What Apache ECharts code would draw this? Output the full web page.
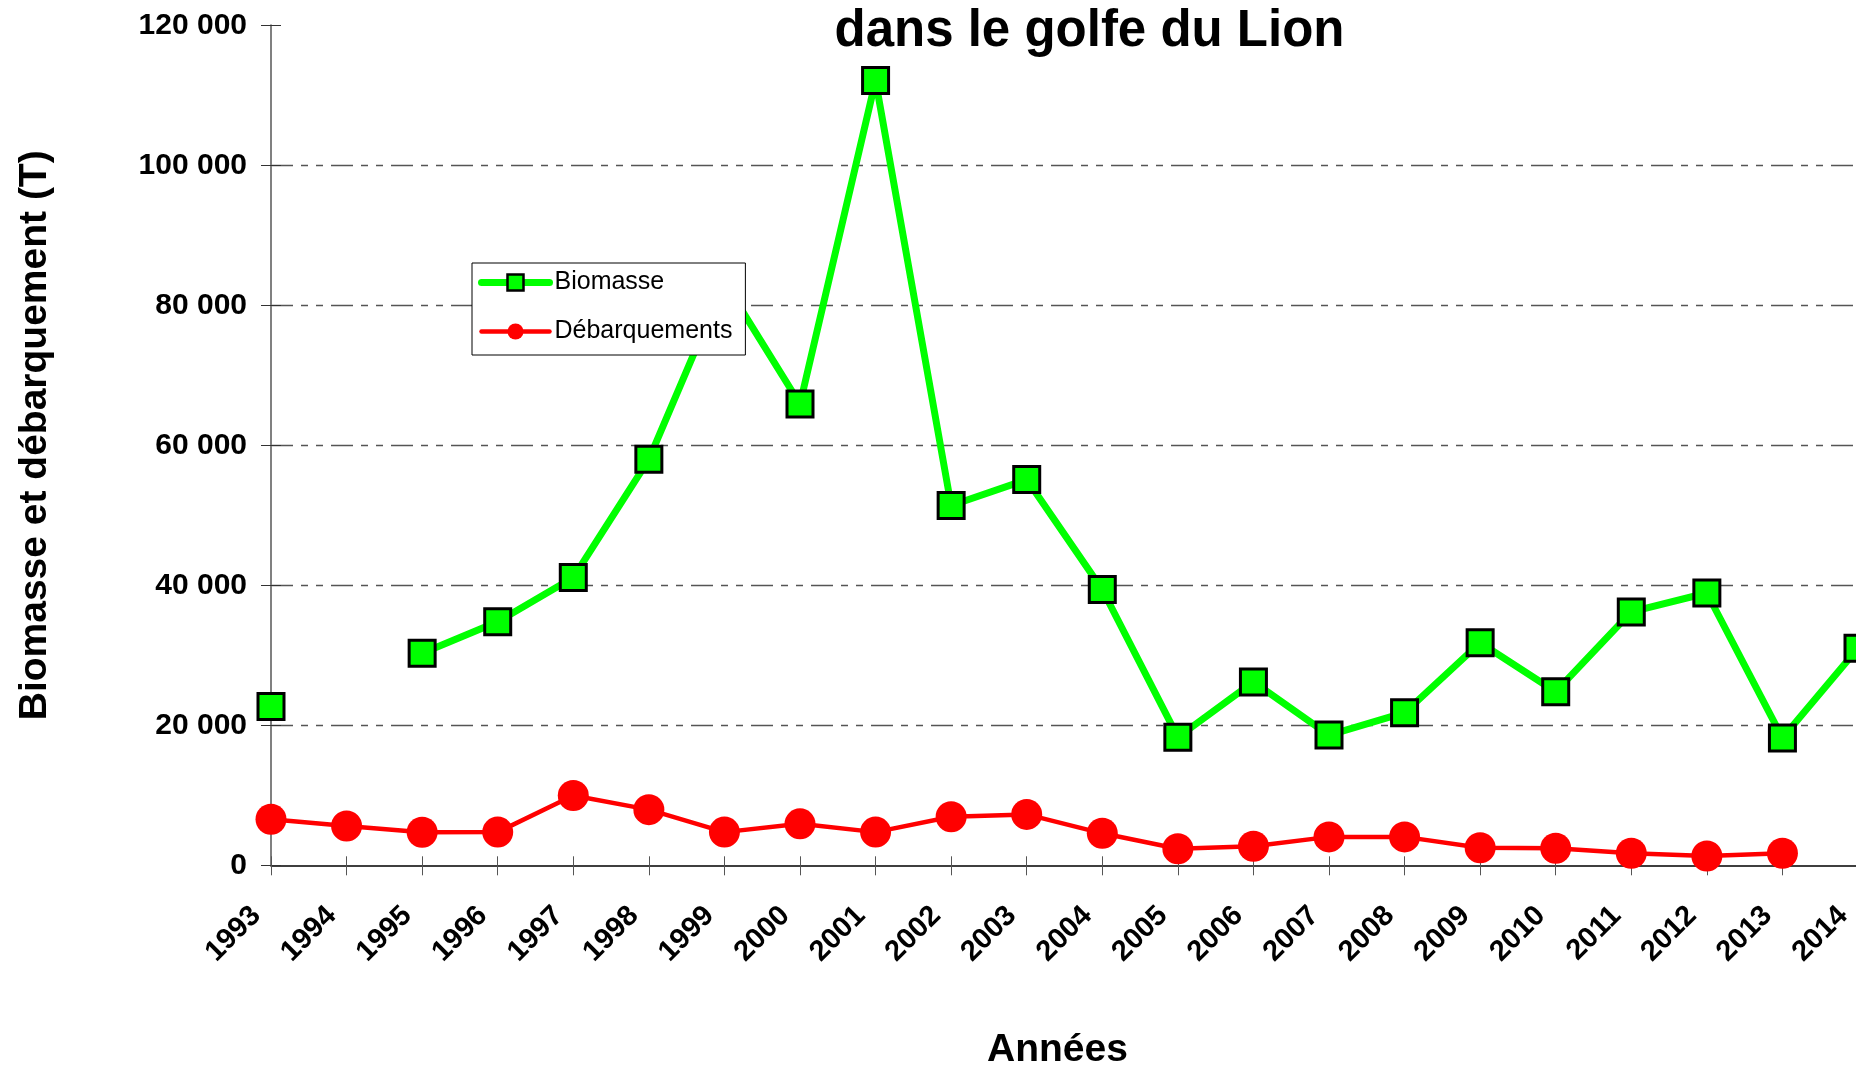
<!DOCTYPE html>
<html>
<head>
<meta charset="utf-8">
<script src="https://cdn.jsdelivr.net/npm/echarts@6/dist/echarts.min.js"></script>
<style>
html,body{margin:0;padding:0;background:#fff;}
#chart{width:1856px;height:1069px;}
</style>
</head>
<body>
<div id="chart"></div>
<script>
const years = ['1993','1994','1995','1996','1997','1998','1999','2000','2001','2002','2003','2004','2005','2006','2007','2008','2009','2010','2011','2012','2013','2014'];
const biomasse = [22700, null, 30300, 34800, 41100, 58000, 83300, 65900, 112100, 51400, 55100, 39400, 18300, 26200, 18600, 21800, 31800, 24800, 36200, 38900, 18200, 31000];
const debarquements = [6570, 5610, 4710, 4740, 9980, 7950, 4740, 5920, 4740, 6930, 7270, 4570, 2370, 2710, 4060, 4060, 2500, 2430, 1710, 1330, 1710, null];
const titleText = 'dans le golfe du Lion';
const yAxisTitle = 'Biomasse et débarquement (T)';
const xAxisTitle = 'Années';
const seriesNames = ['Biomasse', 'Débarquements'];

const FONT = 'Liberation Sans, Arial, sans-serif';
function fmt(v){ return String(v).replace(/\B(?=(\d{3})+(?!\d))/g, ' '); }

const chart = echarts.init(document.getElementById('chart'), null, {renderer:'canvas'});
chart.setOption({
  animation: false,
  backgroundColor: '#ffffff',
  textStyle: { fontFamily: FONT },
  title: {
    text: titleText,
    left: 1089.5,
    top: 6,
    padding: 0,
    textAlign: 'center',
    textStyle: { fontFamily: FONT, fontSize: 51, fontWeight: 'bold', color: '#000' }
  },
  legend: {
    orient: 'vertical',
    left: 472,
    top: 263,
    padding: [7, 13, 11, 6],
    itemGap: 24,
    itemWidth: 68,
    itemHeight: 20,
    backgroundColor: '#ffffff',
    borderColor: '#000000',
    borderWidth: 1,
    textStyle: { fontFamily: FONT, fontSize: 25, color: '#000' },
    data: [
      { name: seriesNames[0], lineStyle: { width: 7, color: '#00ff00', cap: 'round' }, itemStyle: { color: '#00ff00', borderColor: '#000', borderWidth: 2.5 } },
      { name: seriesNames[1], lineStyle: { width: 4.5, color: '#ff0000', cap: 'round' }, itemStyle: { color: '#ff0000', borderWidth: 0 } }
    ]
  },
  grid: { left: 271, top: 25.3, width: 1587, height: 840, containLabel: false, outerBoundsMode: 'none' },
  xAxis: [{
    type: 'category',
    data: years,
    boundaryGap: false,
    name: xAxisTitle,
    nameLocation: 'middle',
    nameGap: 165,
    nameTextStyle: { fontFamily: FONT, fontSize: 39, fontWeight: 'bold', color: '#000', padding: [0, 14, 0, 0] },
    axisLine: { show: true, lineStyle: { color: '#000', width: 1.5 } },
    axisTick: { show: true, length: 10, lineStyle: { color: '#555', width: 1 } },
    axisLabel: {
      rotate: 45, margin: 31, padding: [0, 21, 0, 0],
      fontFamily: FONT, fontSize: 29, fontWeight: 'bold', color: '#000', interval: 0
    },
    splitLine: { show: false }
  }, {
    type: 'category',
    data: years,
    boundaryGap: false,
    position: 'bottom',
    axisLine: { show: false },
    axisTick: { show: true, inside: true, length: 9, lineStyle: { color: '#555', width: 1 } },
    axisLabel: { show: false },
    splitLine: { show: false }
  }],
  yAxis: [{
    type: 'value',
    min: 0, max: 120000, interval: 20000,
    name: yAxisTitle,
    nameLocation: 'middle',
    nameGap: 216,
    nameTextStyle: { fontFamily: FONT, fontSize: 39, fontWeight: 'bold', color: '#000', padding: [0, 0, 0, 20] },
    axisLine: { show: true, lineStyle: { color: '#808080', width: 2 } },
    axisTick: { show: true, length: 10, lineStyle: { color: '#333', width: 1 } },
    axisLabel: { margin: 24, fontFamily: FONT, fontSize: 30, fontWeight: 'bold', color: '#000', formatter: fmt },
    splitLine: { show: true, showMinLine: false, showMaxLine: false, lineStyle: { color: '#555', width: 1.3, type: [22, 8, 7, 8, 7, 8] } }
  }, {
    type: 'value',
    min: 0, max: 120000, interval: 20000,
    position: 'left',
    axisLine: { show: false },
    axisTick: { show: true, inside: true, length: 10, lineStyle: { color: '#333', width: 1 } },
    axisLabel: { show: false },
    splitLine: { show: false }
  }],
  series: [{
    name: seriesNames[0],
    type: 'line',
    data: biomasse,
    connectNulls: false,
    symbol: 'rect',
    symbolSize: 26,
    showAllSymbol: true,
    lineStyle: { color: '#00ff00', width: 7 },
    itemStyle: { color: '#00ff00', borderColor: '#000', borderWidth: 3 },
    z: 2
  }, {
    name: seriesNames[1],
    type: 'line',
    data: debarquements,
    connectNulls: false,
    symbol: 'circle',
    symbolSize: 31,
    showAllSymbol: true,
    lineStyle: { color: '#ff0000', width: 4.5 },
    itemStyle: { color: '#ff0000', borderWidth: 0 },
    z: 3
  }]
});
</script>
</body>
</html>
